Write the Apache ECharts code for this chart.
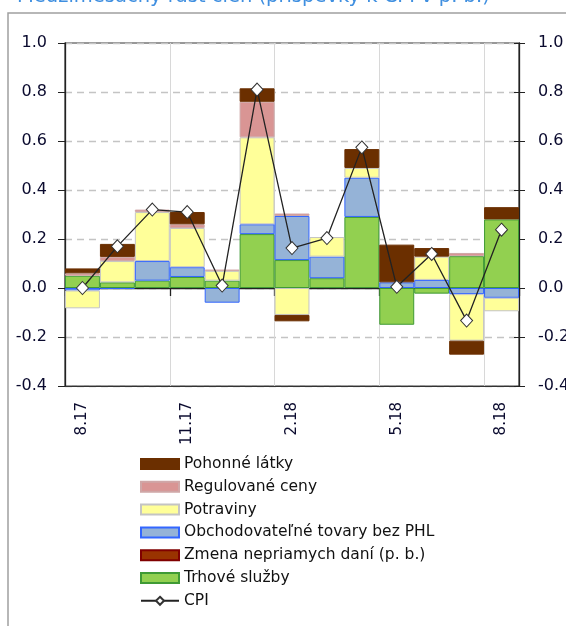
<!DOCTYPE html>
<html><head><meta charset="utf-8">
<script src="https://cdn.jsdelivr.net/npm/echarts@6/dist/echarts.min.js"></script>
<style>html,body{margin:0;padding:0;background:#fff}#c{width:566px;height:626px}</style>
</head><body><div id="c"></div>
<script>
const titleText = 'Medzimesačný rast cien (príspevky k CPI v p. b.)';
const months = ['8.17','9.17','10.17','11.17','12.17','1.18','2.18','3.18','4.18','5.18','6.18','7.18','8.18'];
const trhoveSluzby   = [0.05, 0.023, 0.03, 0.045, 0.03, 0.22, 0.114, 0.04, 0.29, -0.15, -0.023, 0.13, 0.28];
const zmenaDani      = [0, 0, 0, 0, 0, 0, 0, 0, 0, 0, 0, 0, 0];
const obchodovatelne = [-0.01, -0.004, 0.08, 0.04, -0.06, 0.04, 0.18, 0.088, 0.16, 0.023, 0.033, -0.025, -0.04];
const potraviny      = [-0.073, 0.087, 0.2, 0.16, 0.04, 0.355, -0.11, 0.08, 0.04, 0, 0.095, -0.19, -0.055];
const regulovane     = [0.01, 0.017, 0.01, 0.015, 0.005, 0.145, 0.01, 0, 0, 0, 0, 0.013, 0];
const pohonne        = [0.02, 0.053, 0, 0.05, 0, 0.055, -0.026, 0, 0.077, 0.154, 0.035, -0.057, 0.05];
const cpi            = [0.0, 0.17, 0.32, 0.31, 0.01, 0.81, 0.163, 0.204, 0.574, 0.005, 0.139, -0.133, 0.238];
const yTicks = {min: -0.4, max: 1.0, step: 0.2};

const FONT = 'DejaVu Sans';
const clean = a => a.map(v => v === 0 ? null : v);
function bar(name, data, fill, border) {
  return {name, type: 'bar', stack: 's', data: clean(data), barCategoryGap: 0, barGap: 0,
    itemStyle: {color: fill, borderColor: border, borderWidth: 1}, emphasis: {disabled: true}};
}
const chart = echarts.init(document.getElementById('c'), null, {renderer: 'canvas'});
const yBase = {type: 'value', min: yTicks.min, max: yTicks.max, interval: yTicks.step};
const legendNames = ['Pohonné látky', 'Regulované ceny', 'Potraviny', 'Obchodovateľné tovary bez PHL',
           'Zmena nepriamych daní (p. b.)', 'Trhové služby'];
const axisFont = {fontFamily: FONT, fontWeight: 500, color: '#0a0a2e'};
chart.setOption({
  animation: false,
  graphic: [
    {type: 'rect', shape: {x: 8, y: 13, width: 700, height: 700}, style: {fill: 'none', stroke: '#a0a0a0', lineWidth: 1.5}, z: 0},
    {type: 'text', x: 17, y: -13, style: {text: titleText, font: '19.5px "' + FONT + '"', fill: '#3f8fe0'}}
  ],
  grid: {left: 65, right: 47, top: 43, bottom: 240, show: true, borderColor: '#333', borderWidth: 1.2,
         containLabel: false, outerBoundsMode: 'none'},
  legend: {
    orient: 'vertical', left: 135, top: 451, itemWidth: 38, itemHeight: 10, itemGap: 6.8,
    textStyle: {fontFamily: FONT, fontSize: 15.5, color: '#111'},
    data: legendNames.map(n => ({name: n, icon: 'rect'})).concat([{name: 'CPI'}])
  },
  xAxis: [
    {type: 'category', data: months, boundaryGap: true,
     axisLine: {onZero: true, lineStyle: {color: '#222', width: 1.3}},
     axisTick: {show: true, interval: 2, length: 8, lineStyle: {color: '#222', width: 1.3}},
     axisLabel: {show: false},
     splitLine: {show: true, interval: 2, lineStyle: {color: '#d8d8d8', width: 1}}},
    {type: 'category', data: months, position: 'bottom', boundaryGap: true,
     axisLine: {onZero: false, lineStyle: {color: '#333', width: 1.2}},
     axisTick: {show: false},
     axisLabel: Object.assign({interval: 2, rotate: 90, margin: 16, fontSize: 15}, axisFont),
     splitLine: {show: false}}
  ],
  yAxis: [
    Object.assign({}, yBase, {position: 'left',
     axisLine: {show: true, lineStyle: {color: '#222', width: 1.3}},
     axisTick: {show: true, length: 7, lineStyle: {color: '#222'}},
     axisLabel: Object.assign({margin: 18, fontSize: 16, formatter: v => v.toFixed(1)}, axisFont),
     splitLine: {show: true, lineStyle: {color: '#c4c4c4', type: [7, 5], width: 1.3}}}),
    Object.assign({}, yBase, {position: 'right',
     axisLine: {show: true, lineStyle: {color: '#222', width: 1.3}},
     axisTick: {show: true, length: 6, lineStyle: {color: '#222'}},
     axisLabel: Object.assign({margin: 19, fontSize: 16, formatter: v => v.toFixed(1)}, axisFont),
     splitLine: {show: false}}),
    Object.assign({}, yBase, {position: 'right',
     axisLine: {show: false},
     axisTick: {show: true, inside: true, length: 5, lineStyle: {color: '#222'}},
     axisLabel: {show: false},
     splitLine: {show: false}})
  ],
  series: [
    bar('Trhové služby', trhoveSluzby, '#92d050', '#3f9a35'),
    bar('Zmena nepriamych daní (p. b.)', zmenaDani, '#993300', '#800000'),
    bar('Obchodovateľné tovary bez PHL', obchodovatelne, '#95b3d7', '#3366ff'),
    bar('Potraviny', potraviny, '#ffff99', '#c4c4c4'),
    bar('Regulované ceny', regulovane, '#d99594', '#cfa7a7'),
    bar('Pohonné látky', pohonne, '#6b2f00', '#6b2f00'),
    {name: 'CPI', type: 'line', data: cpi, symbol: 'diamond', symbolSize: [12, 13],
     lineStyle: {color: '#222', width: 1.3}, itemStyle: {color: '#fff', borderColor: '#333', borderWidth: 1},
     emphasis: {disabled: true}, z: 5}
  ]
});
</script></body></html>
